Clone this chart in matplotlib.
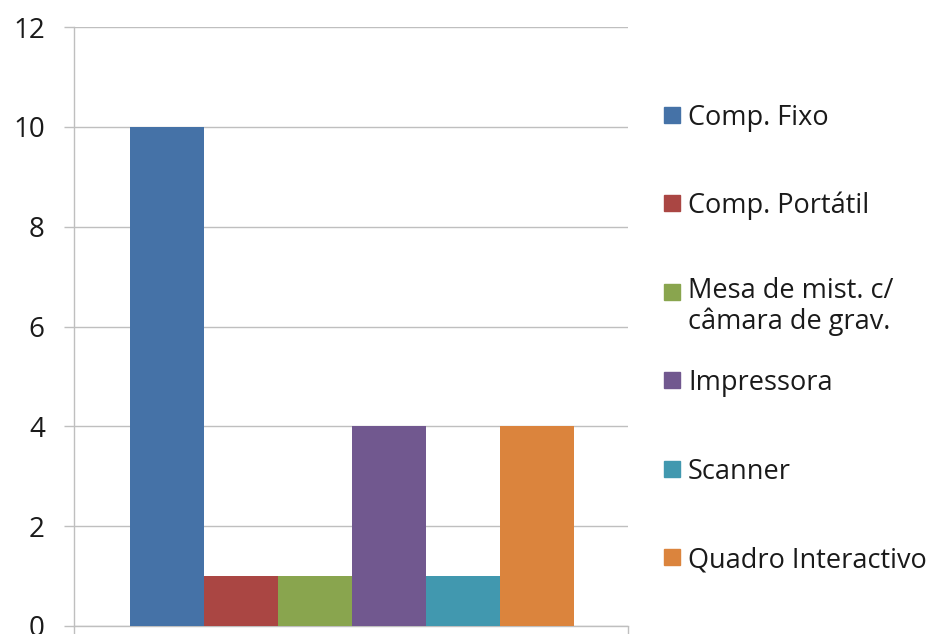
import matplotlib
matplotlib.use("Agg")
import matplotlib.pyplot as plt
from matplotlib.patches import Rectangle

plt.rcParams['font.family'] = ['Open Sans', 'DejaVu Sans']

labels = ["Comp. Fixo", "Comp. Portátil", "Mesa de mist. c/\ncâmara de grav.",
          "Impressora", "Scanner", "Quadro Interactivo"]
values = [10, 1, 1, 4, 1, 4]
colors = ["#4572A7", "#AA4643", "#89A54E", "#71588F", "#4198AF", "#DB843D"]
yticks = [0, 2, 4, 6, 8, 10, 12]

fig = plt.figure(figsize=(9.32, 6.34), dpi=100)
ax = fig.add_axes([74/932, 1 - 626/634, (628-74)/932, (626-27)/634])

x = range(len(values))
ax.bar(x, values, width=1.0, color=colors, zorder=3)

ax.set_xlim(-1.257, 6.23)
ax.set_ylim(0, 12)
ax.set_yticks(yticks)
ax.yaxis.grid(True, color="#bfbfbf", linewidth=1.0, zorder=0)
ax.tick_params(axis='y', length=7, width=1, color="#bfbfbf", pad=14,
               labelsize=20, labelcolor="#1a1a1a")
ax.set_xticks([-1.257, 6.23])
ax.set_xticklabels([])
ax.tick_params(axis='x', length=6, width=1, color="#bfbfbf")
for s in ['top', 'right']:
    ax.spines[s].set_visible(False)
for s in ['left', 'bottom']:
    ax.spines[s].set_color("#bfbfbf")
    ax.spines[s].set_linewidth(1.0)

# legend, drawn by hand so the two-line entry hangs below its marker
y0 = 115
step = 88.4
line_h = 27
for i, (lab, c) in enumerate(zip(labels, colors)):
    yc = y0 + i * step
    n = lab.count("\n")
    fig.add_artist(Rectangle((664/932, 1 - (yc + 8)/634), 16/932, 16/634,
                             transform=fig.transFigure, color=c))
    # baseline refers to the last line, so push multi-line text down
    fig.text(688/932, 1 - (yc + 10 + n * line_h)/634, lab, fontsize=19.5,
             color="#1a1a1a", va='baseline', ha='left', linespacing=1.1)

fig.savefig("out.png", dpi=100)
